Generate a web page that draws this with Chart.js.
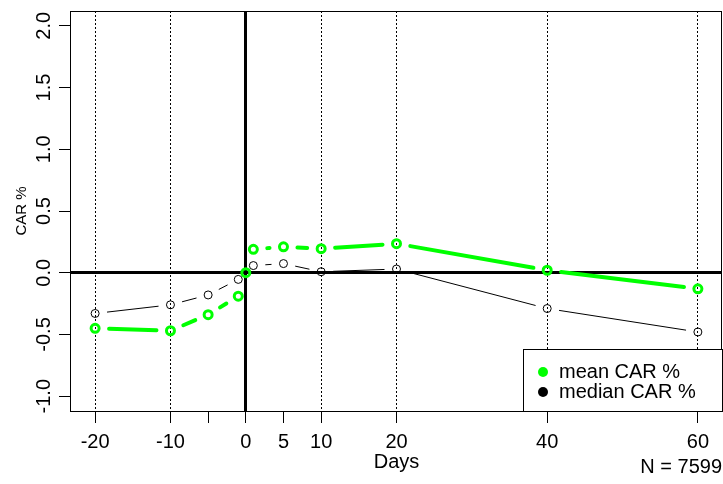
<!DOCTYPE html>
<html>
<head>
<meta charset="utf-8">
<script src="https://cdn.jsdelivr.net/npm/chart.js@4.4.1/dist/chart.umd.min.js"></script>
<style>
    html, body { margin: 0; padding: 0; background: #fff; }
    #wrap { position: relative; width: 723px; height: 484px; }
</style>
</head>
<body>
<div id="wrap"><canvas id="car_chart"></canvas></div>
<script>
// event window, days around the announcement
var days = [-20, -10, -5, -1, 0, 1, 5, 10, 20, 40, 60];
var meanCar = [-0.45, -0.47, -0.34, -0.19, 0.0, 0.19, 0.21, 0.195, 0.235, 0.02, -0.13];
var medianCar = [-0.33, -0.26, -0.18, -0.054, 0.0, 0.058, 0.074, 0.008, 0.03, -0.29, -0.48];

var xTicks = [-20, -10, -5, 0, 5, 10, 20, 40, 60];
var xTickLabels = ['-20', '-10', '', '0', '5', '10', '20', '40', '60'];
var yTicks = [-1, -0.5, 0, 0.5, 1, 1.5, 2];
var yTickLabels = ['-1.0', '-0.5', '0.0', '0.5', '1.0', '1.5', '2.0'];
var sampleNote = 'N = 7599';

var FONT = '"Liberation Sans", Arial, sans-serif';

function toPoints(values) {
    return days.map(function (d, i) { return {x: d, y: values[i]}; });
}

// R type="b" look: leave a gap around each point
function gapSegment(gap, color) {
    function len(ctx) {
        return Math.hypot(ctx.p1.x - ctx.p0.x, ctx.p1.y - ctx.p0.y);
    }
    return {
        borderColor: function (ctx) {
            return len(ctx) > 2 * gap + 1 ? color : 'rgba(0,0,0,0)';
        },
        borderDash: function (ctx) {
            return [Math.max(len(ctx) - 2 * gap, 0.1), 2 * gap + 1000 + ctx.p0DataIndex];
        },
        borderDashOffset: function () { return -gap; }
    };
}

var frameAndLegend = {
    id: 'frameAndLegend',
    afterDraw: function (chart) {
        var a = chart.chartArea, c = chart.ctx;
        c.save();
        c.strokeStyle = '#000';
        c.lineWidth = 1;
        c.strokeRect(a.left - 0.5, a.top + 0.5, a.right - a.left, a.bottom - a.top);

        var w = 199, h = 62;
        var x0 = a.right - w, y0 = a.bottom - h;
        c.fillStyle = '#fff';
        c.fillRect(x0, y0, w, h);
        c.strokeRect(x0 + 0.5, y0 + 0.5, w, h);
        c.font = '20px ' + FONT;
        c.textBaseline = 'middle';
        chart.data.datasets.forEach(function (ds, i) {
            var cy = y0 + 23 + i * 20;
            c.beginPath();
            c.arc(x0 + 20, cy, 5, 0, Math.PI * 2);
            c.fillStyle = ds.borderColor;
            c.fill();
            c.fillStyle = '#000';
            c.textAlign = 'left';
            c.fillText(ds.label, x0 + 36, cy);
        });

        c.textAlign = 'right';
        c.fillText(sampleNote, chart.width - 1, 467);
        c.restore();
    }
};

var chart = new Chart(document.getElementById('car_chart'), {
    type: 'line',
    data: {
        datasets: [{
            label: 'mean CAR %',
            data: toPoints(meanCar),
            borderColor: '#00ff00',
            borderWidth: 4,
            borderCapStyle: 'round',
            pointStyle: 'circle',
            pointRadius: 4,
            pointBorderWidth: 3,
            pointBorderColor: '#00ff00',
            pointBackgroundColor: 'rgba(0,0,0,0)',
            segment: gapSegment(14, '#00ff00')
        }, {
            label: 'median CAR %',
            data: toPoints(medianCar),
            borderColor: '#000000',
            borderWidth: 1,
            pointStyle: 'circle',
            pointRadius: 4,
            pointBorderWidth: 1,
            pointBorderColor: '#000000',
            pointBackgroundColor: 'rgba(0,0,0,0)',
            segment: gapSegment(12, '#000000')
        }]
    },
    options: {
        responsive: true,
        maintainAspectRatio: false,
        animation: false,
        layout: {
            autoPadding: false,
            padding: {top: 11, right: 1, left: 0, bottom: 0}
        },
        plugins: {
            legend: {display: false},
            tooltip: {enabled: false}
        },
        scales: {
            x: {
                type: 'linear',
                min: -23.2,
                max: 63.2,
                afterBuildTicks: function (scale) {
                    scale.ticks = xTicks.map(function (v) { return {value: v}; });
                },
                afterFit: function (scale) { scale.height = 73; },
                ticks: {
                    autoSkip: false,
                    maxRotation: 0,
                    padding: 7,
                    color: '#000',
                    font: {family: FONT, size: 20},
                    callback: function (v) {
                        var i = xTicks.indexOf(v);
                        return i < 0 ? '' : xTickLabels[i];
                    }
                },
                grid: {
                    drawTicks: true,
                    tickLength: 12,
                    tickColor: '#000',
                    tickWidth: 1,
                    color: function (ctx) {
                        if (!ctx.tick) return '#000';
                        return (ctx.tick.value === 5 || ctx.tick.value === -5) ? 'rgba(0,0,0,0)' : '#000';
                    },
                    lineWidth: function (ctx) {
                        return ctx.tick && ctx.tick.value === 0 ? 3 : 1;
                    }
                },
                border: {
                    display: false,
                    dash: function (ctx) {
                        return ctx.tick && ctx.tick.value !== 0 ? [2, 2] : [];
                    }
                },
                title: {
                    display: true,
                    text: 'Days',
                    color: '#000',
                    font: {family: FONT, size: 20},
                    padding: {top: 0, bottom: 10}
                }
            },
            y: {
                min: -1.12,
                max: 2.12,
                afterBuildTicks: function (scale) {
                    scale.ticks = yTicks.map(function (v) { return {value: v}; });
                },
                afterFit: function (scale) { scale.width = 71; },
                ticks: {
                    minRotation: 90,
                    maxRotation: 90,
                    crossAlign: 'center',
                    padding: -3,
                    color: '#000',
                    font: {family: FONT, size: 20},
                    callback: function (v) {
                        var i = yTicks.indexOf(v);
                        return i < 0 ? '' : yTickLabels[i];
                    }
                },
                grid: {
                    drawTicks: true,
                    tickLength: 12,
                    tickColor: '#000',
                    tickWidth: 1,
                    color: function (ctx) {
                        return ctx.tick && ctx.tick.value === 0 ? '#000' : 'rgba(0,0,0,0)';
                    },
                    lineWidth: function (ctx) {
                        return ctx.tick && ctx.tick.value === 0 ? 3 : 1;
                    }
                },
                border: {display: false},
                title: {
                    display: true,
                    text: 'CAR %',
                    color: '#000',
                    font: {family: FONT, size: 15},
                    padding: {top: 13, bottom: 0}
                }
            }
        }
    },
    plugins: [frameAndLegend]
});
</script>
</body>
</html>
